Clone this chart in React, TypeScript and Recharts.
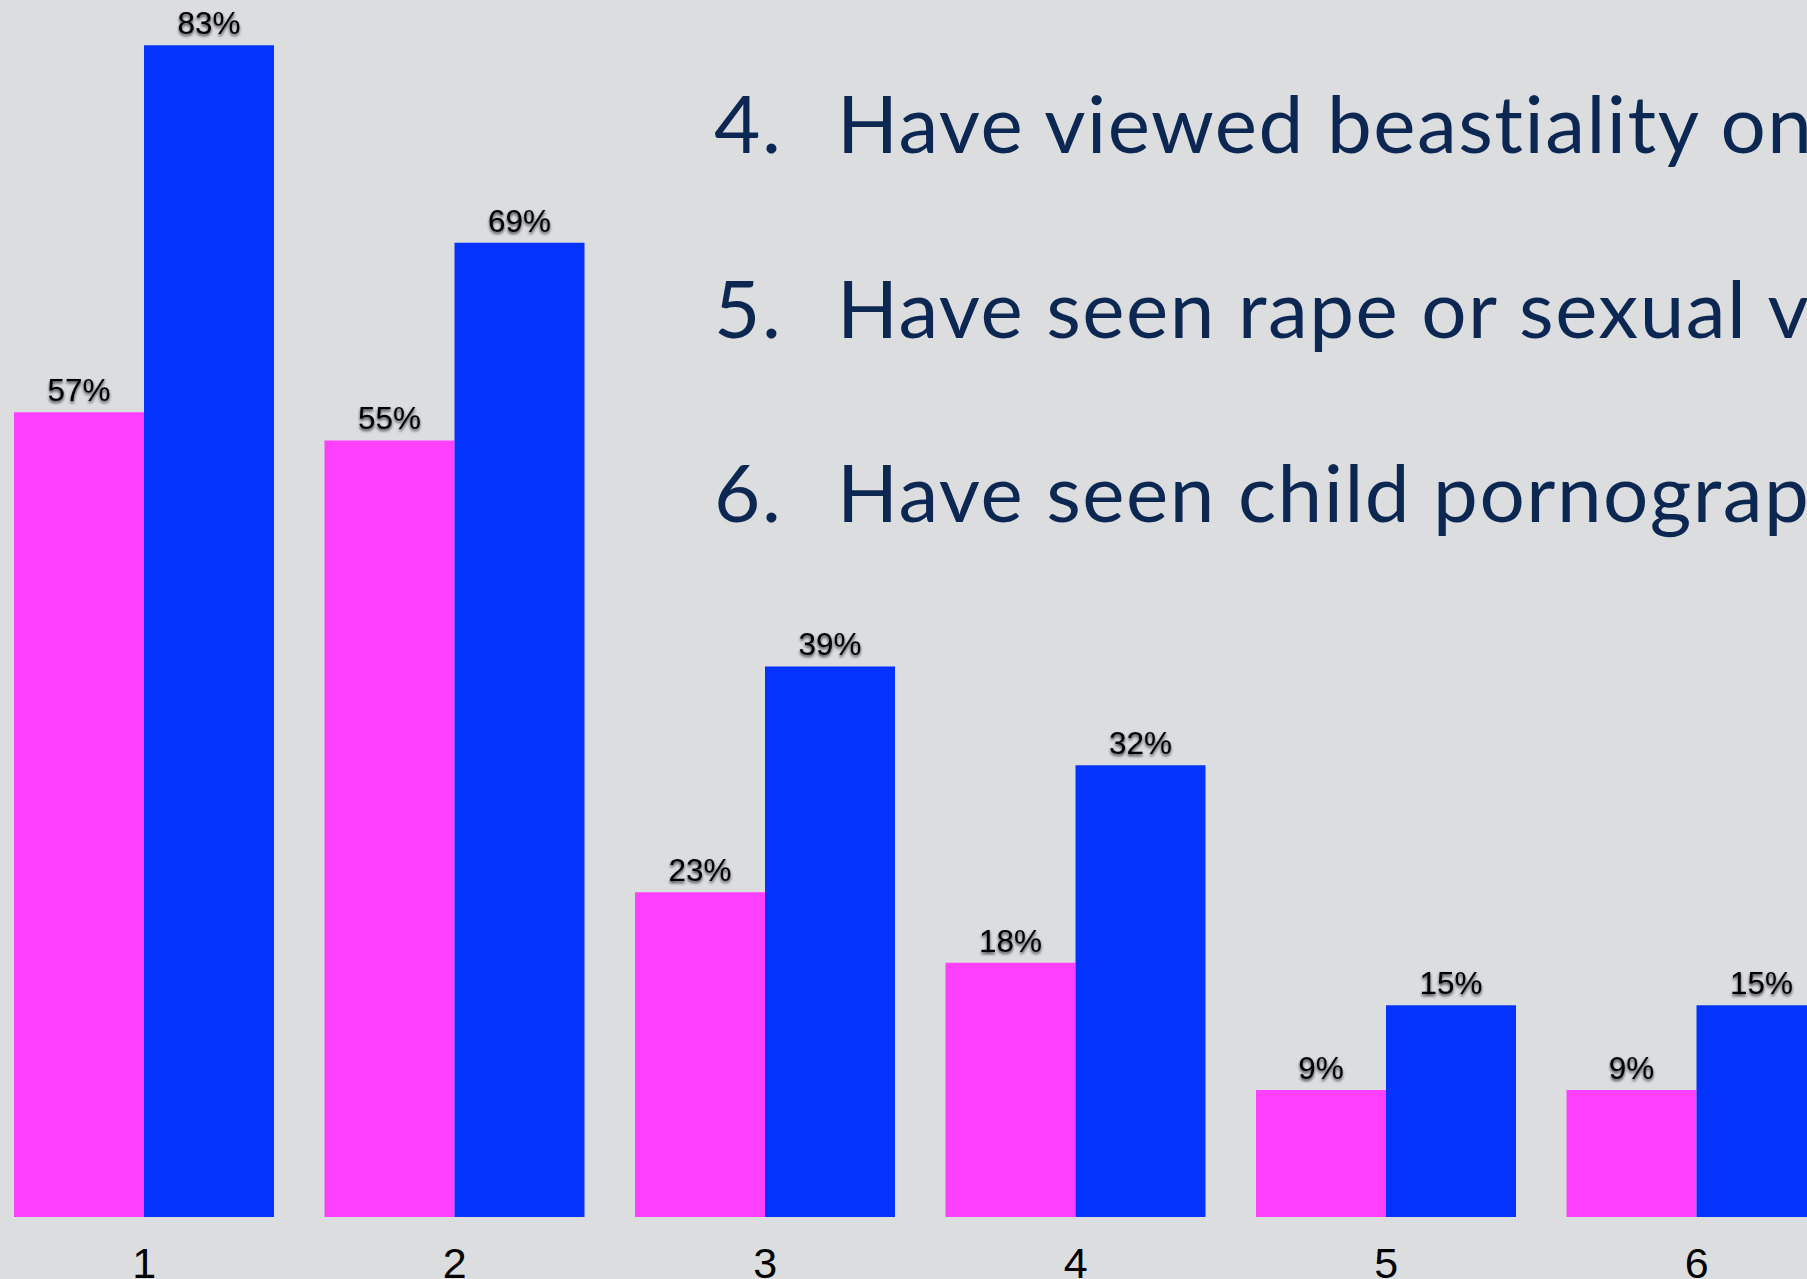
import { BarChart, Bar, XAxis, YAxis, LabelList } from "recharts";

const categories = ["1", "2", "3", "4", "5", "6"];
const pinkValues = [57, 55, 23, 18, 9, 9];
const blueValues = [83, 69, 39, 32, 15, 15];

const statements = [
  { num: "4.", text: "Have viewed beastiality online" },
  { num: "5.", text: "Have seen rape or sexual violence online" },
  { num: "6.", text: "Have seen child pornography online" },
];

const chartData = categories.map((name, i) => ({
  name,
  pink: pinkValues[i],
  blue: blueValues[i],
}));

const labelStyle = {
  filter: "drop-shadow(0px 2px 1.5px rgba(0,0,0,0.75))",
};

export default function App() {
  return (
    <div
      style={{
        position: "absolute",
        left: 0,
        top: 0,
        width: 1807,
        height: 1279,
        overflow: "hidden",
        background: "#dcdddf",
      }}
    >
      <div style={{ position: "absolute", left: -11, top: 0 }}>
        <BarChart
          width={1863}
          height={1279}
          data={chartData}
          margin={{ top: 0, right: 0, bottom: 0, left: 0 }}
          barCategoryGap={25}
          barGap={0}
        >
          <XAxis
            dataKey="name"
            height={62}
            axisLine={false}
            tickLine={false}
            tickSize={0}
            tickMargin={30}
            tick={{
              fill: "#000",
              fontSize: 43,
              fontFamily: "'Liberation Sans', Arial, sans-serif",
            }}
          />
          <YAxis hide domain={[0, 86.2]} />
          <Bar dataKey="pink" fill="#ff40ff" isAnimationActive={false}>
            <LabelList
              dataKey="pink"
              position="top"
              offset={11}
              formatter={(v: number) => `${v}%`}
              fill="#000"
              fontSize={31.5}
              fontFamily="'Liberation Sans', Arial, sans-serif"
              style={labelStyle}
            />
          </Bar>
          <Bar dataKey="blue" fill="#0433ff" isAnimationActive={false}>
            <LabelList
              dataKey="blue"
              position="top"
              offset={11}
              formatter={(v: number) => `${v}%`}
              fill="#000"
              fontSize={31.5}
              fontFamily="'Liberation Sans', Arial, sans-serif"
              style={labelStyle}
            />
          </Bar>
        </BarChart>
      </div>
      <svg
        width={1807}
        height={1279}
        style={{ position: "absolute", left: 0, top: 0, pointerEvents: "none" }}
      >
        {statements.map((s, i) => (
          <g
            key={s.num}
            fill="#0c2752"
            fontSize={80}
            fontFamily="Lato, 'Noto Sans', sans-serif"
            style={{ fontVariantLigatures: "none", letterSpacing: 1.5 }}
          >
            <text x={714} y={153 + i * 184.5}>
              {s.num}
            </text>
            <text x={837} y={153 + i * 184.5}>
              {s.text}
            </text>
          </g>
        ))}
      </svg>
    </div>
  );
}
